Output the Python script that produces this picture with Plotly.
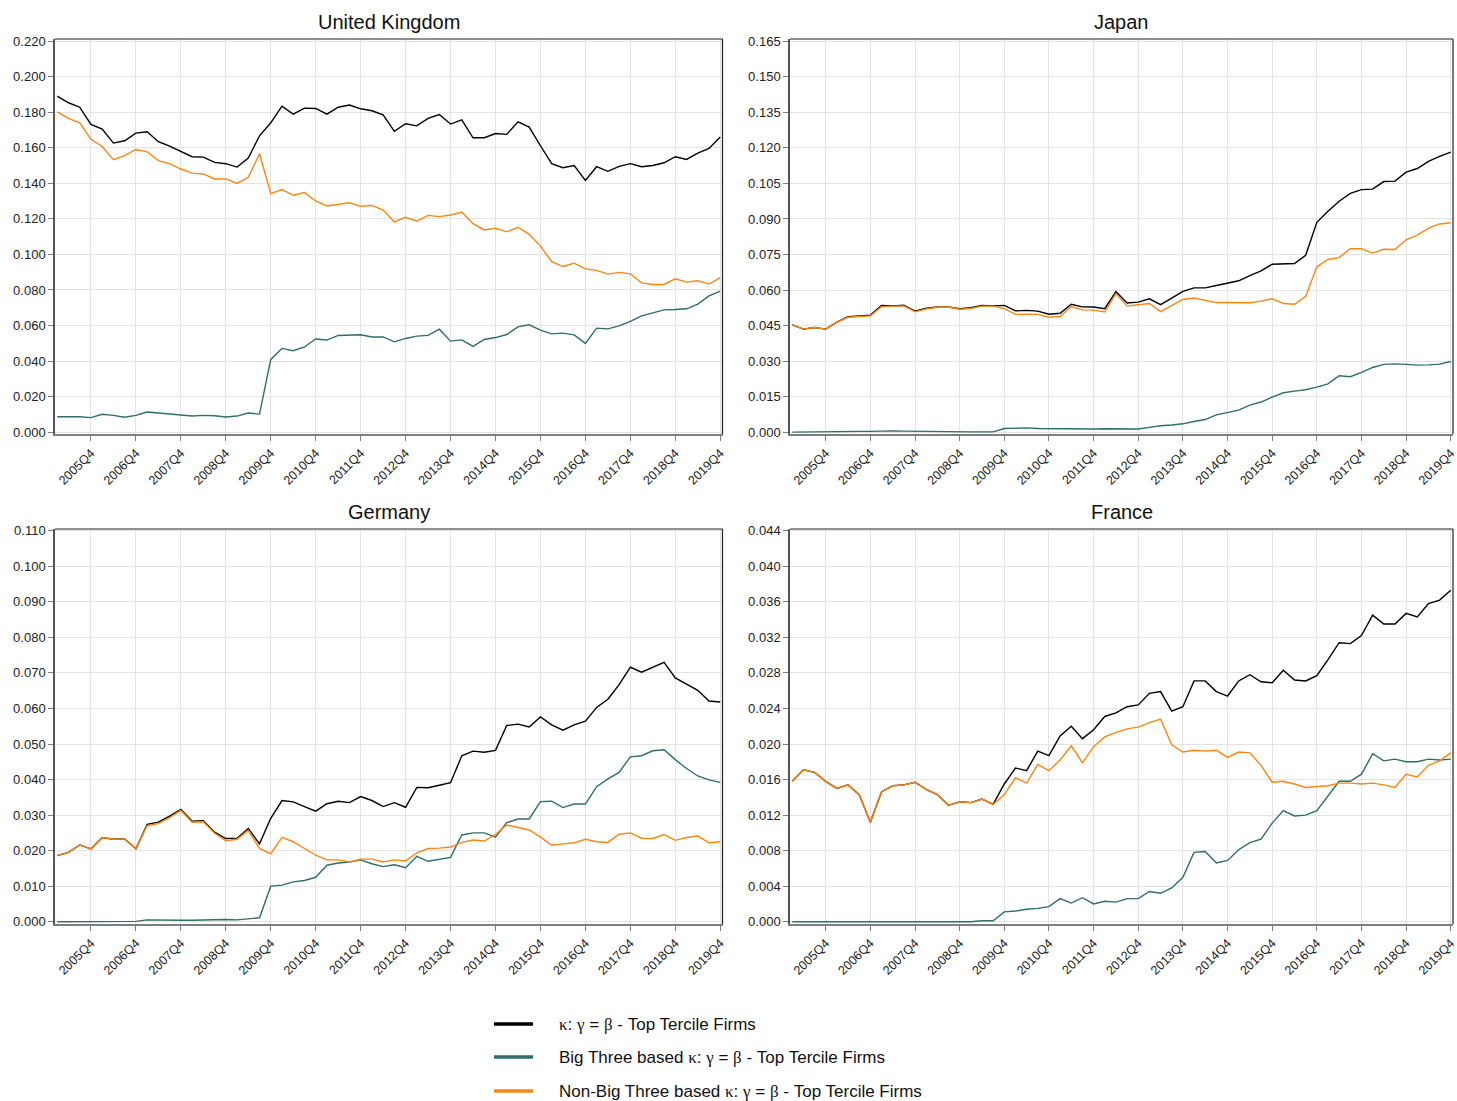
import plotly.graph_objects as go

# Quarterly periods 2005Q1 .. 2019Q4
quarters = [f"{y}Q{q}" for y in range(2005, 2020) for q in range(1, 5)]
tick_labels = [f"{y}Q4" for y in range(2005, 2020)]

series_names = [
    "\u03ba: \u03b3 = \u03b2 - Top Tercile Firms",
    "Big Three based \u03ba: \u03b3 = \u03b2 - Top Tercile Firms",
    "Non-Big Three based \u03ba: \u03b3 = \u03b2 - Top Tercile Firms",
]
colors = ["#000000", "#2f6e69", "#ff8512"]

# ---------------- United Kingdom ----------------
uk_total = [
    0.1891, 0.1854, 0.1829, 0.1732, 0.1706, 0.1627, 0.1640, 0.1683, 0.1691, 0.1635,
    0.1610, 0.1578, 0.1550, 0.1548, 0.1518, 0.1511, 0.1492, 0.1543, 0.1668, 0.1741,
    0.1835, 0.1790, 0.1824, 0.1822, 0.1790, 0.1829, 0.1841, 0.1820, 0.1809, 0.1786,
    0.1693, 0.1736, 0.1724, 0.1766, 0.1788, 0.1734, 0.1758, 0.1657, 0.1657, 0.1681,
    0.1676, 0.1747, 0.1717, 0.1612, 0.1511, 0.1488, 0.1500, 0.1417, 0.1494, 0.1468,
    0.1496, 0.1511, 0.1494, 0.1501, 0.1516, 0.1550, 0.1535, 0.1571, 0.1597, 0.1661,
]
uk_big3 = [
    0.0086, 0.0086, 0.0086, 0.0081, 0.0100, 0.0094, 0.0083, 0.0094, 0.0113, 0.0107,
    0.0100, 0.0096, 0.0090, 0.0094, 0.0092, 0.0085, 0.0090, 0.0107, 0.0101, 0.0409,
    0.0471, 0.0458, 0.0479, 0.0524, 0.0518, 0.0544, 0.0548, 0.0548, 0.0535, 0.0536,
    0.0508, 0.0527, 0.0540, 0.0544, 0.0579, 0.0512, 0.0519, 0.0482, 0.0521, 0.0532,
    0.0549, 0.0592, 0.0604, 0.0574, 0.0553, 0.0557, 0.0547, 0.0499, 0.0585, 0.0581,
    0.0598, 0.0623, 0.0654, 0.0673, 0.0688, 0.0690, 0.0694, 0.0720, 0.0767, 0.0793,
]
uk_nonbig3 = [
    0.1803, 0.1766, 0.1741, 0.1648, 0.1608, 0.1533, 0.1556, 0.1591, 0.1578, 0.1528,
    0.1511, 0.1481, 0.1458, 0.1453, 0.1425, 0.1425, 0.1400, 0.1434, 0.1567, 0.1342,
    0.1365, 0.1333, 0.1348, 0.1301, 0.1273, 0.1284, 0.1291, 0.1271, 0.1276, 0.1250,
    0.1183, 0.1209, 0.1187, 0.1220, 0.1213, 0.1222, 0.1239, 0.1173, 0.1138, 0.1147,
    0.1127, 0.1153, 0.1113, 0.1047, 0.0959, 0.0932, 0.0951, 0.0919, 0.0910, 0.0889,
    0.0899, 0.0891, 0.0840, 0.0831, 0.0831, 0.0863, 0.0844, 0.0852, 0.0833, 0.0870,
]

# ---------------- Japan ----------------
jp_total = [
    0.0453, 0.0435, 0.0442, 0.0435, 0.0464, 0.0487, 0.0490, 0.0494, 0.0535, 0.0533,
    0.0536, 0.0511, 0.0523, 0.0528, 0.0528, 0.0521, 0.0525, 0.0535, 0.0533, 0.0535,
    0.0512, 0.0514, 0.0511, 0.0498, 0.0502, 0.0540, 0.0529, 0.0528, 0.0521, 0.0593,
    0.0545, 0.0549, 0.0563, 0.0538, 0.0566, 0.0594, 0.0609, 0.0609, 0.0619, 0.0629,
    0.0639, 0.0661, 0.0681, 0.0709, 0.0709, 0.0712, 0.0747, 0.0886, 0.0933, 0.0975,
    0.1008, 0.1024, 0.1026, 0.1058, 0.1060, 0.1098, 0.1113, 0.1143, 0.1164, 0.1182,
]
jp_big3 = [
    0.0000, 0.0001, 0.0001, 0.0002, 0.0002, 0.0003, 0.0003, 0.0003, 0.0005, 0.0005,
    0.0004, 0.0003, 0.0002, 0.0002, 0.0002, 0.0002, 0.0001, 0.0001, 0.0001, 0.0015,
    0.0018, 0.0018, 0.0015, 0.0014, 0.0015, 0.0013, 0.0013, 0.0013, 0.0014, 0.0013,
    0.0011, 0.0013, 0.0020, 0.0027, 0.0030, 0.0035, 0.0045, 0.0053, 0.0073, 0.0083,
    0.0093, 0.0114, 0.0127, 0.0148, 0.0166, 0.0173, 0.0179, 0.0190, 0.0204, 0.0238,
    0.0234, 0.0252, 0.0273, 0.0286, 0.0288, 0.0286, 0.0283, 0.0284, 0.0287, 0.0298,
]
jp_nonbig3 = [
    0.0453, 0.0435, 0.0442, 0.0435, 0.0464, 0.0485, 0.0488, 0.0491, 0.0530, 0.0530,
    0.0533, 0.0508, 0.0520, 0.0527, 0.0528, 0.0519, 0.0522, 0.0532, 0.0532, 0.0521,
    0.0497, 0.0498, 0.0497, 0.0485, 0.0488, 0.0530, 0.0516, 0.0515, 0.0507, 0.0585,
    0.0532, 0.0538, 0.0543, 0.0509, 0.0535, 0.0560, 0.0566, 0.0557, 0.0547, 0.0547,
    0.0547, 0.0546, 0.0553, 0.0563, 0.0543, 0.0540, 0.0573, 0.0698, 0.0729, 0.0737,
    0.0774, 0.0775, 0.0756, 0.0772, 0.0771, 0.0812, 0.0832, 0.0861, 0.0879, 0.0884,
]

# ---------------- Germany ----------------
de_total = [
    0.0186, 0.0195, 0.0216, 0.0205, 0.0237, 0.0232, 0.0233, 0.0205, 0.0274, 0.0280,
    0.0297, 0.0316, 0.0283, 0.0284, 0.0252, 0.0234, 0.0235, 0.0262, 0.0219, 0.0291,
    0.0341, 0.0337, 0.0324, 0.0311, 0.0332, 0.0339, 0.0335, 0.0352, 0.0341, 0.0324,
    0.0335, 0.0322, 0.0378, 0.0377, 0.0384, 0.0391, 0.0467, 0.0480, 0.0477, 0.0482,
    0.0552, 0.0556, 0.0548, 0.0576, 0.0554, 0.0539, 0.0554, 0.0564, 0.0603, 0.0626,
    0.0667, 0.0716, 0.0702, 0.0716, 0.0730, 0.0686, 0.0668, 0.0651, 0.0621, 0.0618,
]
de_big3 = [
    0.0000, 0.0000, 0.0001, 0.0001, 0.0001, 0.0001, 0.0001, 0.0001, 0.0005, 0.0004,
    0.0004, 0.0004, 0.0004, 0.0005, 0.0006, 0.0006, 0.0005, 0.0008, 0.0011, 0.0100,
    0.0103, 0.0112, 0.0116, 0.0125, 0.0159, 0.0165, 0.0168, 0.0174, 0.0163, 0.0155,
    0.0160, 0.0152, 0.0184, 0.0170, 0.0176, 0.0181, 0.0244, 0.0250, 0.0250, 0.0238,
    0.0279, 0.0289, 0.0289, 0.0338, 0.0339, 0.0321, 0.0331, 0.0331, 0.0380, 0.0402,
    0.0420, 0.0464, 0.0467, 0.0481, 0.0484, 0.0456, 0.0431, 0.0410, 0.0399, 0.0392,
]
de_nonbig3 = [
    0.0186, 0.0195, 0.0216, 0.0205, 0.0237, 0.0232, 0.0233, 0.0205, 0.0270, 0.0276,
    0.0293, 0.0313, 0.0280, 0.0281, 0.0249, 0.0228, 0.0232, 0.0257, 0.0206, 0.0191,
    0.0237, 0.0225, 0.0206, 0.0187, 0.0174, 0.0174, 0.0168, 0.0176, 0.0176, 0.0168,
    0.0174, 0.0171, 0.0194, 0.0206, 0.0207, 0.0210, 0.0223, 0.0230, 0.0227, 0.0246,
    0.0272, 0.0266, 0.0258, 0.0238, 0.0215, 0.0219, 0.0222, 0.0232, 0.0225, 0.0223,
    0.0246, 0.0250, 0.0235, 0.0234, 0.0245, 0.0229, 0.0237, 0.0241, 0.0222, 0.0225,
]

# ---------------- France ----------------
fr_total = [
    0.0158, 0.0171, 0.0168, 0.0158, 0.0150, 0.0154, 0.0143, 0.0112, 0.0146, 0.0153,
    0.0154, 0.0157, 0.0149, 0.0143, 0.0131, 0.0135, 0.0134, 0.0138, 0.0132, 0.0155,
    0.0173, 0.0170, 0.0192, 0.0187, 0.0209, 0.0220, 0.0206, 0.0216, 0.0231, 0.0235,
    0.0242, 0.0244, 0.0257, 0.0259, 0.0237, 0.0242, 0.0271, 0.0271, 0.0259, 0.0254,
    0.0271, 0.0278, 0.0270, 0.0269, 0.0283, 0.0272, 0.0271, 0.0277, 0.0295, 0.0314,
    0.0313, 0.0322, 0.0345, 0.0335, 0.0335, 0.0347, 0.0343, 0.0358, 0.0362, 0.0373,
]
fr_big3 = [
    0.0000, 0.0000, 0.0000, 0.0000, 0.0000, 0.0000, 0.0000, 0.0000, 0.0000, 0.0000,
    0.0000, 0.0000, 0.0000, 0.0000, 0.0000, 0.0000, 0.0000, 0.0001, 0.0001, 0.0011,
    0.0012, 0.0014, 0.0015, 0.0017, 0.0026, 0.0021, 0.0027, 0.0020, 0.0023, 0.0022,
    0.0026, 0.0026, 0.0034, 0.0032, 0.0038, 0.0050, 0.0078, 0.0079, 0.0066, 0.0069,
    0.0081, 0.0089, 0.0093, 0.0111, 0.0125, 0.0119, 0.0120, 0.0125, 0.0141, 0.0158,
    0.0158, 0.0166, 0.0189, 0.0181, 0.0183, 0.0180, 0.0180, 0.0183, 0.0182, 0.0183,
]
fr_nonbig3 = [
    0.0158, 0.0171, 0.0168, 0.0158, 0.0150, 0.0154, 0.0143, 0.0112, 0.0146, 0.0153,
    0.0154, 0.0157, 0.0149, 0.0143, 0.0131, 0.0135, 0.0134, 0.0138, 0.0132, 0.0143,
    0.0162, 0.0156, 0.0177, 0.0170, 0.0182, 0.0198, 0.0179, 0.0197, 0.0208, 0.0213,
    0.0217, 0.0219, 0.0224, 0.0228, 0.0199, 0.0191, 0.0193, 0.0192, 0.0193, 0.0185,
    0.0191, 0.0190, 0.0176, 0.0157, 0.0158, 0.0155, 0.0151, 0.0152, 0.0153, 0.0156,
    0.0156, 0.0155, 0.0156, 0.0154, 0.0151, 0.0166, 0.0163, 0.0176, 0.0181, 0.0190,
]

W, H = 1457, 1101

panels = [
    # title, series, y range, dtick, x domain, y domain
    ("United Kingdom", [uk_total, uk_big3, uk_nonbig3], [-0.0011, 0.2213], 0.02,
     [55 / W, 722.5 / W], [1 - 434 / H, 1 - 39 / H]),
    ("Japan", [jp_total, jp_big3, jp_nonbig3], [-0.0008, 0.1660], 0.015,
     [790 / W, 1453 / W], [1 - 434 / H, 1 - 39 / H]),
    ("Germany", [de_total, de_big3, de_nonbig3], [-0.00065, 0.1105], 0.01,
     [55 / W, 722.5 / W], [1 - 924 / H, 1 - 529 / H]),
    ("France", [fr_total, fr_big3, fr_nonbig3], [-0.00026, 0.0442], 0.004,
     [790 / W, 1453 / W], [1 - 924 / H, 1 - 529 / H]),
]

x_idx = list(range(len(quarters)))
tick_pos = [quarters.index(t) for t in tick_labels]

fig = go.Figure()
annotations = []
shapes = []
font_family = "Liberation Sans, Arial, sans-serif"

for p, (title, series, yr, dt, xd, yd) in enumerate(panels):
    n = "" if p == 0 else str(p + 1)
    for s, vals in enumerate(series):
        fig.add_trace(go.Scatter(
            x=x_idx, y=vals, mode="lines",
            line=dict(color=colors[s], width=1.4),
            name=series_names[s],
            xaxis="x" + n, yaxis="y" + n,
            showlegend=False,
            hovertext=quarters, hoverinfo="text+y",
        ))
    fig.layout["xaxis" + n] = dict(
        domain=xd, anchor="y" + n, range=[-0.2, 59.2], automargin=False,
        tickvals=tick_pos, ticktext=tick_labels, tickangle=-45,
        ticklabeloverflow="allow",
        showgrid=True, gridcolor="#e3e3e3", gridwidth=1,
        showline=True, linecolor="#7f7f7f", linewidth=2, mirror=False,
        ticks="outside", ticklen=5, tickcolor="#7f7f7f",
        tickfont=dict(size=12.5, color="#222"), zeroline=False,
    )
    fig.layout["yaxis" + n] = dict(
        domain=yd, anchor="x" + n, range=yr, dtick=dt, tick0=0, automargin=False,
        tickformat=".3f", ticklabeloverflow="allow",
        showgrid=True, gridcolor="#e3e3e3", gridwidth=1,
        showline=True, linecolor="#555555", linewidth=1.5, mirror=False,
        ticks="outside", ticklen=5, tickcolor="#7f7f7f",
        tickfont=dict(size=13, color="#222"), zeroline=False,
    )
    # upper and right frame edges
    shapes.append(dict(type="line", xref=f"x{n} domain", yref=f"y{n} domain",
                       x0=0, x1=1, y0=1, y1=1, line=dict(color="#222", width=1.2)))
    shapes.append(dict(type="line", xref=f"x{n} domain", yref=f"y{n} domain",
                       x0=1, x1=1, y0=0, y1=1, line=dict(color="#222", width=1.2)))
    annotations.append(dict(
        text=title, x=(xd[0] + xd[1]) / 2, y=yd[1], xref="paper", yref="paper",
        xanchor="center", yanchor="bottom", yshift=4, showarrow=False,
        font=dict(size=20, color="#111", family=font_family),
    ))


def serif_greek(label):
    # set the Greek symbols in a serif face, as in typeset formulas
    for ch in "\u03ba\u03b3\u03b2":
        label = label.replace(ch, f"<span style='font-family:Liberation Serif, serif'>{ch}</span>")
    return label


# Legend block below the panels: short line swatch + label per series
legend_rows = [1024, 1057, 1091]
for s, name in enumerate(series_names):
    yy = 1 - legend_rows[s] / H
    shapes.append(dict(type="line", xref="paper", yref="paper",
                       x0=494 / W, x1=533 / W, y0=yy, y1=yy,
                       line=dict(color=colors[s], width=3.5)))
    annotations.append(dict(
        text=serif_greek(name), x=557 / W, y=yy, xref="paper", yref="paper",
        xanchor="left", yanchor="middle", showarrow=False,
        font=dict(size=17, color="#111", family=font_family),
    ))

fig.update_layout(
    width=W, height=H,
    margin=dict(l=0, r=0, t=0, b=0, autoexpand=False),
    paper_bgcolor="white", plot_bgcolor="white",
    font=dict(family=font_family, color="#222"),
    annotations=annotations,
    shapes=shapes,
    showlegend=False,
)

fig.write_html("out.html")
